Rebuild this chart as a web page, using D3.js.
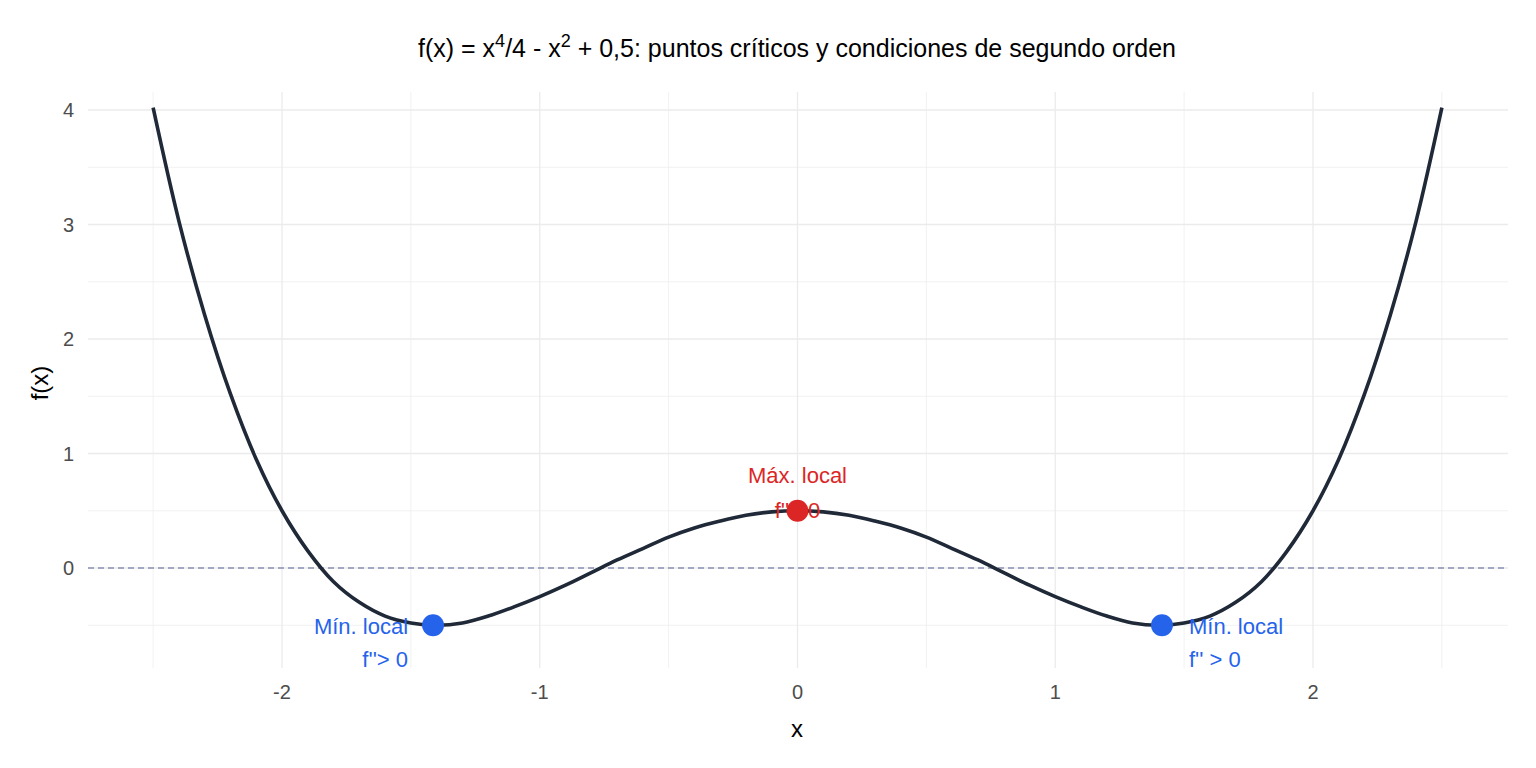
<html>
<head>
<script src="https://cdn.jsdelivr.net/npm/d3@7"></script>
<style>body{margin:0;background:#fff;font-family:"Liberation Sans",Arial,sans-serif;}</style>
</head>
<body>
<svg width="1536" height="768"></svg>
<script>
// curve values
var xs = [-2.5,-2.4,-2.3,-2.2,-2.1,-2.0,-1.9,-1.8,-1.7,-1.6,-1.5,-1.4,-1.3,-1.2,-1.1,-1.0,-0.9,-0.8,-0.7,-0.6,-0.5,-0.4,-0.3,-0.2,-0.1,0,
	0.1,0.2,0.3,0.4,0.5,0.6,0.7,0.8,0.9,1.0,1.1,1.2,1.3,1.4,1.5,1.6,1.7,1.8,1.9,2.0,2.1,2.2,2.3,2.4,2.5];
var ys = [4.02,3.03,2.21,1.52,0.95,0.5,0.15,-0.12,-0.30,-0.42,-0.48,-0.50,-0.48,-0.42,-0.34,-0.25,-0.15,-0.04,0.07,0.17,0.27,0.35,0.41,0.46,0.49,0.5,
	0.49,0.46,0.41,0.35,0.27,0.17,0.07,-0.04,-0.15,-0.25,-0.34,-0.42,-0.48,-0.50,-0.48,-0.42,-0.30,-0.12,0.15,0.5,0.95,1.52,2.21,3.03,4.02];
var critX = [-1.414, 0, 1.414];
var critY = [-0.5, 0.5, -0.5];
var critType = ['min', 'max', 'min'];
var xTicks = [-2, -1, 0, 1, 2];
var yTicks = [0, 1, 2, 3, 4];

var svg = d3.select('svg');
var x = d3.scaleLinear().domain([-2, 2]).range([282, 1313]);
var y = d3.scaleLinear().domain([0, 4]).range([568, 110]);
var L = 88, R = 1508, T = 92, B = 668;

var g = svg.append('g');
d3.range(-2.5, 2.6, 0.5).forEach(function(v) {
	if (x(v) < L || x(v) > R) return;
	g.append('line').attr('x1', x(v)).attr('x2', x(v)).attr('y1', T).attr('y2', B)
		.attr('stroke', '#ebebeb').attr('stroke-width', Number.isInteger(v) ? 1.3 : 0.7);
});
d3.range(-0.5, 4.1, 0.5).forEach(function(v) {
	g.append('line').attr('x1', L).attr('x2', R).attr('y1', y(v)).attr('y2', y(v))
		.attr('stroke', '#ebebeb').attr('stroke-width', Number.isInteger(v) ? 1.3 : 0.7);
});

svg.append('line').attr('x1', L).attr('x2', R).attr('y1', y(0)).attr('y2', y(0))
	.attr('stroke', '#8890b5').attr('stroke-width', 1.3).attr('stroke-dasharray', '6,4');

var line = d3.line().x(function(d, i) { return x(xs[i]); }).y(function(d, i) { return y(ys[i]); })
	.curve(d3.curveCatmullRom);
svg.append('path').datum(xs).attr('d', line).attr('fill', 'none')
	.attr('stroke', '#1f2937').attr('stroke-width', 3.6);

critX.forEach(function(cx, i) {
	var col = critType[i] == 'max' ? '#dc2626' : '#2563eb';
	var px = x(cx), py = y(critY[i]);
	var t1, t2, anchor, tx, y1, y2;
	if (critType[i] == 'max') { t1 = 'Máx. local'; t2 = "f''< 0"; anchor = 'middle'; tx = px; y1 = py - 28; y2 = py + 7; }
	else {
		t1 = 'Mín. local'; t2 = cx < 0 ? "f''> 0" : "f'' > 0";
		anchor = cx < 0 ? 'end' : 'start'; tx = cx < 0 ? px - 25 : px + 27; y1 = py + 9; y2 = py + 42;
	}
	svg.append('text').attr('x', tx).attr('y', y1).attr('text-anchor', anchor).attr('fill', col).attr('font-size', 22).text(t1);
	svg.append('text').attr('x', tx).attr('y', y2).attr('text-anchor', anchor).attr('fill', col).attr('font-size', 22).text(t2);
	svg.append('circle').attr('cx', px).attr('cy', py).attr('r', 11).attr('fill', col);
});

xTicks.forEach(function(v) {
	svg.append('text').attr('x', x(v)).attr('y', 699).attr('text-anchor', 'middle')
		.attr('fill', '#4d4d4d').attr('font-size', 20).text(v);
});
yTicks.forEach(function(v) {
	svg.append('text').attr('x', 74).attr('y', y(v) + 7).attr('text-anchor', 'end')
		.attr('fill', '#4d4d4d').attr('font-size', 20).text(v);
});

svg.append('text').attr('x', 797).attr('y', 737).attr('text-anchor', 'middle').attr('font-size', 24).text('x');
svg.append('text').attr('transform', 'translate(48,383) rotate(-90)').attr('text-anchor', 'middle').attr('font-size', 24).text('f(x)');

var title = svg.append('text').attr('x', 797).attr('y', 57).attr('text-anchor', 'middle').attr('font-size', 25);
title.append('tspan').text('f(x) = x');
title.append('tspan').attr('dy', -10).attr('font-size', 18).text('4');
title.append('tspan').attr('dy', 10).text('/4 - x');
title.append('tspan').attr('dy', -10).attr('font-size', 18).text('2');
title.append('tspan').attr('dy', 10).text(' + 0,5: puntos críticos y condiciones de segundo orden');
</script>
</body>
</html>
